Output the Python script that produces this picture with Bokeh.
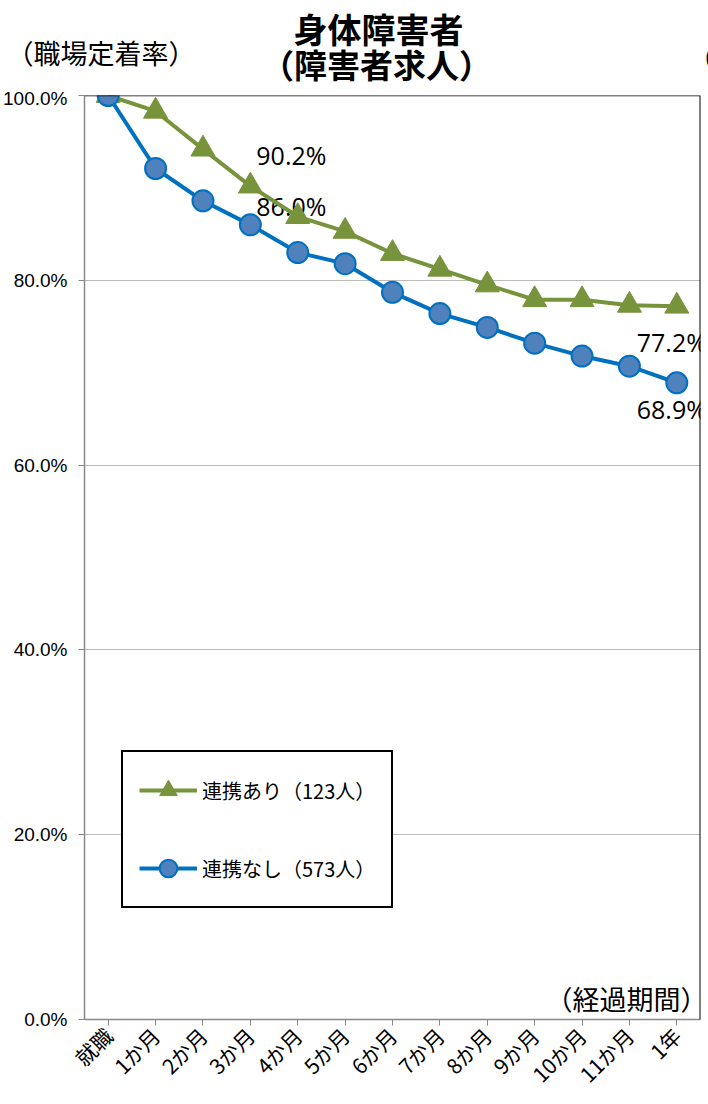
from bokeh.plotting import figure
from bokeh.models import (Label, Span, Legend, LegendItem, FixedTicker,
                          PrintfTickFormatter, ColumnDataSource, FactorRange, Range1d)
from bokeh.core.properties import value
from bokeh.embed import file_html
from bokeh.resources import INLINE

# ---- data ----
categories = ["就職", "1か月", "2か月", "3か月", "4か月", "5か月", "6か月",
              "7か月", "8か月", "9か月", "10か月", "11か月", "1年"]
with_link = [100.0, 98.3, 94.2, 90.2, 86.9, 85.3, 82.9, 81.2, 79.5, 77.9, 77.9, 77.3, 77.2]
without_link = [100.0, 92.1, 88.6, 86.0, 83.0, 81.8, 78.7, 76.4, 74.9, 73.2, 71.8, 70.7, 68.9]
y_ticks = [0, 20, 40, 60, 80, 100]
series_names = ["連携あり（123人）", "連携なし（573人）"]
title_lines = ["身体障害者", "（障害者求人）"]
y_title = "（職場定着率）"
x_title = "（経過期間）"
labelled_idx = [3, 12]

JP = "Noto Sans CJK JP"
GREEN = "#77933C"
BLUE = "#0070C0"
BLUE_FILL = "#4F81BD"

# ---- header (titles above the plot frame) ----
HEAD_H = 87
head = figure(width=708, height=HEAD_H, x_range=Range1d(0, 708), y_range=Range1d(0, HEAD_H),
              x_axis_type=None, y_axis_type=None, output_backend="svg",
              toolbar_location=None, min_border=0)
head.min_border_left = head.min_border_right = 0
head.min_border_top = head.min_border_bottom = 0
head.outline_line_color = None
head.xgrid.grid_line_color = None
head.ygrid.grid_line_color = None


def add_text(fig, x, y, text, size, align="left", bold=False):
    fig.add_layout(Label(x=x, y=y, x_units="screen", y_units="screen", text=text,
                         text_align=align, text_baseline="middle", text_font=JP,
                         text_font_size=size, text_color="black",
                         text_font_style="bold" if bold else "normal"))


add_text(head, 378, HEAD_H - 27.5, title_lines[0], "34px", "center", True)
add_text(head, 376, HEAD_H - 63, title_lines[1], "33px", "center", True)
add_text(head, 6, HEAD_H - 51.5, y_title, "27px")
add_text(head, 688, HEAD_H - 56, "（", "26px")

# ---- main plot ----
p = figure(width=708, height=1104 - HEAD_H, x_range=FactorRange(*categories),
           y_range=Range1d(0, 100), output_backend="svg", toolbar_location=None,
           min_border_left=84, min_border_right=8, min_border_top=95 - HEAD_H,
           min_border_bottom=85)
p.title = None
p.outline_line_color = None
p.background_fill_color = "white"

p.yaxis.ticker = FixedTicker(ticks=y_ticks)
p.yaxis.formatter = PrintfTickFormatter(format="%.1f%%")
p.yaxis.major_label_text_font = "Liberation Sans"
p.yaxis.major_label_text_font_size = "19px"
p.yaxis.major_label_text_color = "black"
p.yaxis.axis_line_color = "#888888"
p.yaxis.axis_line_width = 1.5
p.yaxis.major_tick_line_color = "#888888"
p.yaxis.major_tick_out = 6
p.yaxis.major_tick_in = 0
p.yaxis.minor_tick_line_color = None
p.yaxis.major_label_standoff = 11

p.xaxis.major_label_orientation = 0.785398
p.xaxis.major_label_text_font = JP
p.xaxis.major_label_text_font_size = "21px"
p.xaxis.major_label_text_color = "black"
p.xaxis.axis_line_color = "#888888"
p.xaxis.axis_line_width = 1.5
p.xaxis.major_tick_line_color = "#888888"
p.xaxis.major_tick_out = 6
p.xaxis.major_tick_in = 0
p.xaxis.major_label_standoff = 6

p.xgrid.grid_line_color = None
p.ygrid.grid_line_color = "#BBBBBB"
p.ygrid.grid_line_width = 1

# top and right borders of the plot area
p.add_layout(Span(location=100, dimension="width", line_color="black", line_width=1.5))
p.add_layout(Span(location=len(categories), dimension="height", line_color="black", line_width=2))

# data labels (drawn beneath the series)
lab_a = ColumnDataSource(dict(x=[categories[i] for i in labelled_idx],
                              y=[with_link[i] for i in labelled_idx],
                              t=["%.1f%%" % with_link[i] for i in labelled_idx],
                              dx=[41, -5], dy=[-31, 36]))
lab_b = ColumnDataSource(dict(x=[categories[i] for i in labelled_idx],
                              y=[without_link[i] for i in labelled_idx],
                              t=["%.1f%%" % without_link[i] for i in labelled_idx],
                              dx=[41, -5], dy=[-19, 26]))
for s in (lab_a, lab_b):
    p.text("x", "y", text="t", source=s, x_offset="dx", y_offset="dy",
           text_align="center", text_baseline="middle", text_color="black",
           text_font=value("Open Sans"), text_font_size="25px")

src = ColumnDataSource(dict(x=categories, a=with_link, b=without_link))
la = p.line("x", "a", source=src, line_color=GREEN, line_width=4)
ma = p.scatter("x", "a", source=src, marker="triangle", size=24,
               fill_color=GREEN, line_color=GREEN)
lb = p.line("x", "b", source=src, line_color=BLUE, line_width=4)
mb = p.scatter("x", "b", source=src, marker="circle", size=21,
               fill_color=BLUE_FILL, line_color=BLUE, line_width=2)

legend = Legend(items=[LegendItem(label=series_names[0], renderers=[la, ma]),
                       LegendItem(label=series_names[1], renderers=[lb, mb])],
                location=(37, 111), orientation="vertical",
                border_line_color="black", border_line_width=2, border_line_alpha=1,
                background_fill_color="white", background_fill_alpha=1,
                glyph_width=58, glyph_height=44, label_height=44,
                label_standoff=5, spacing=34, padding=16,
                label_text_font=JP, label_text_font_size="20px",
                label_text_color="black")
p.add_layout(legend, "center")

n = len(categories)
p.add_layout(Label(x=n + 0.15, y=2.3, text=x_title, text_align="right",
                   text_baseline="middle", text_font=JP, text_font_size="27px",
                   text_color="black"))

# two independent roots stacked on the page (no frame alignment between them)
open("out.html", "w").write(file_html([head, p], INLINE))
